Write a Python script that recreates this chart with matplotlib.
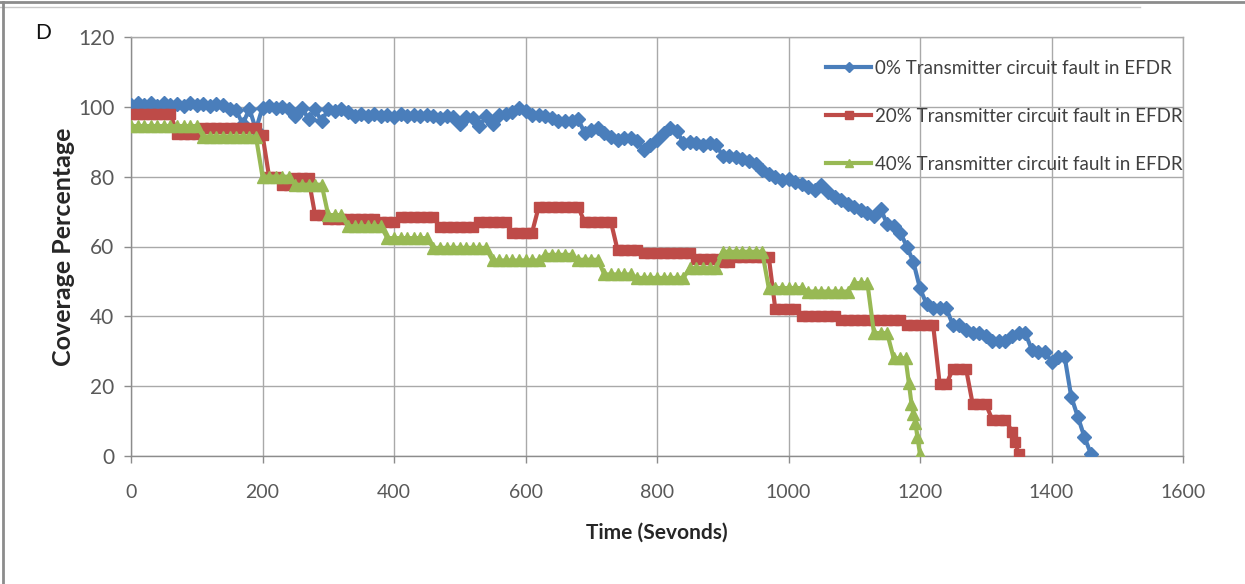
import numpy as np
import matplotlib
matplotlib.use("Agg")
import matplotlib.pyplot as plt
from matplotlib.lines import Line2D
from matplotlib import font_manager

# ---------------- data ----------------
# Coverage (%) sampled every 10 s, with a few extra samples on the final drops
blue_t = list(range(0, 1461, 10))
blue_v = [
    100.5, 101.0, 100.5, 101.0, 100.3, 101.0, 100.5, 100.8, 100.3, 101.0,   # 0-90
    100.5, 100.8, 100.3, 100.8, 100.5, 99.5, 99.0, 95.0, 99.5, 93.5,        # 100-190
    99.8, 100.3, 99.8, 100.0, 99.5, 97.3, 99.8, 96.5, 99.3, 95.8,           # 200-290
    99.5, 98.8, 99.3, 98.5, 97.5, 98.0, 97.3, 98.0, 97.5, 97.8,             # 300-390
    97.2, 98.0, 97.5, 97.8, 97.3, 97.8, 97.5, 96.8, 97.5, 97.0,             # 400-490
    95.0, 97.2, 96.8, 94.5, 97.3, 95.0, 97.7, 98.0, 98.5, 99.6,             # 500-590
    98.8, 97.8, 97.7, 97.5, 96.8, 95.8, 96.0, 95.8, 96.5, 92.5,             # 600-690
    93.5, 93.8, 92.5, 91.5, 90.5, 91.0, 91.0, 90.3, 87.5, 89.0,             # 700-790
    90.5, 92.5, 94.0, 93.2, 89.6, 90.0, 89.6, 89.0, 89.5, 89.0,             # 800-890
    86.0, 86.0, 85.5, 85.0, 84.5, 83.5, 82.0, 80.8, 79.8, 79.0,             # 900-990
    79.2, 78.6, 78.0, 77.0, 76.2, 77.5, 75.5, 74.3, 73.3, 72.3,             # 1000-1090
    71.3, 70.5, 69.5, 68.8, 70.8, 66.5, 65.8, 64.0, 60.0, 55.5,             # 1100-1190
    48.0, 43.5, 42.3, 42.3, 42.3, 37.5, 37.5, 36.0, 35.2, 35.2,             # 1200-1290
    34.5, 32.8, 32.8, 32.8, 34.5, 35.2, 35.2, 30.5, 29.9, 29.9,             # 1300-1390
    27.0, 28.4, 28.4, 17.0, 11.3, 5.5, 0.6,                                 # 1400-1460
]

red_t = list(range(0, 1341, 10)) + [1345, 1350]
red_v = [
    98.0, 98.0, 98.0, 98.0, 98.0, 98.0, 98.0, 92.3, 92.3, 92.3,             # 0-90
    92.3, 94.0, 94.0, 94.0, 94.0, 94.0, 94.0, 94.0, 94.0, 94.0,             # 100-190
    92.0, 80.0, 80.0, 77.5, 77.5, 79.5, 79.5, 79.5, 69.0, 69.0,             # 200-290
    68.0, 68.0, 68.0, 68.0, 68.0, 68.0, 68.0, 68.0, 67.0, 67.0,             # 300-390
    67.0, 68.5, 68.5, 68.5, 68.5, 68.5, 68.5, 65.5, 65.5, 65.5,             # 400-490
    65.5, 65.5, 65.5, 67.0, 67.0, 67.0, 67.0, 67.0, 64.0, 64.0,             # 500-590
    64.0, 64.0, 71.3, 71.3, 71.3, 71.3, 71.3, 71.3, 71.3, 67.0,             # 600-690
    67.0, 67.0, 67.0, 67.0, 59.0, 59.0, 59.0, 59.0, 58.2, 58.2,             # 700-790
    58.2, 58.2, 58.2, 58.2, 58.2, 58.2, 56.3, 56.3, 56.3, 56.3,             # 800-890
    55.5, 55.5, 57.0, 57.0, 57.0, 57.0, 57.0, 57.0, 42.0, 42.0,             # 900-990
    42.0, 42.0, 40.0, 40.0, 40.0, 40.0, 40.0, 40.0, 39.0, 39.0,             # 1000-1090
    39.0, 39.0, 39.0, 39.0, 39.0, 39.0, 39.0, 39.0, 37.5, 37.5,             # 1100-1190
    37.5, 37.5, 37.5, 20.5, 20.5, 25.0, 25.0, 25.0, 15.0, 15.0,             # 1200-1290
    15.0, 10.3, 10.3, 10.3, 7.0, 4.0, 0.5,                                  # 1300-1350
]

green_t = list(range(0, 1171, 10)) + [1178, 1183, 1187, 1190, 1193, 1196, 1200]
green_v = [
    94.5, 94.5, 94.5, 94.5, 94.5, 94.5, 94.5, 94.5, 94.5, 94.5,             # 0-90
    94.5, 91.5, 91.5, 91.5, 91.5, 91.5, 91.5, 91.5, 91.5, 91.5,             # 100-190
    80.0, 80.0, 80.0, 80.0, 80.0, 77.7, 77.7, 77.7, 77.7, 77.7,             # 200-290
    69.0, 69.0, 69.0, 65.8, 65.8, 65.8, 65.8, 65.8, 65.8, 62.4,             # 300-390
    62.4, 62.4, 62.4, 62.4, 62.4, 62.4, 59.6, 59.6, 59.6, 59.6,             # 400-490
    59.6, 59.6, 59.6, 59.6, 59.6, 56.0, 56.0, 56.0, 56.0, 56.0,             # 500-590
    56.0, 56.0, 56.0, 57.6, 57.6, 57.6, 57.6, 57.6, 56.2, 56.2,             # 600-690
    56.2, 56.2, 52.0, 52.0, 52.0, 52.0, 52.0, 51.0, 51.0, 51.0,             # 700-790
    51.0, 51.0, 51.0, 51.0, 51.0, 53.8, 53.8, 53.8, 53.8, 53.8,             # 800-890
    58.5, 58.5, 58.5, 58.5, 58.5, 58.5, 58.5, 48.1, 48.1, 48.1,             # 900-990
    48.1, 48.1, 48.1, 47.1, 47.1, 47.1, 47.1, 47.1, 47.1, 47.1,             # 1000-1090
    49.5, 49.5, 49.5, 35.2, 35.2, 35.2, 28.0, 28.0,                         # 1100-1170
    28.0, 21.0, 15.0, 12.0, 9.5, 5.5, 0.5,                                  # 1178-1200
]

series_labels = [
    "0% Transmitter circuit fault in EFDR",
    "20% Transmitter circuit fault in EFDR",
    "40% Transmitter circuit fault in EFDR",
]
x_ticks = [0, 200, 400, 600, 800, 1000, 1200, 1400, 1600]
y_ticks = [0, 20, 40, 60, 80, 100, 120]

# ---------------- styling ----------------
BLUE, RED, GREEN = "#4A7EBB", "#BE4B48", "#98B954"
TEXT = "#404040"
GRID = "#a9a9a9"

available = {f.name for f in font_manager.fontManager.ttflist}
base_font = "Lato" if "Lato" in available else "DejaVu Sans"
narrow_font = "Liberation Sans Narrow" if "Liberation Sans Narrow" in available else base_font
plt.rcParams["font.family"] = [base_font, "DejaVu Sans"]

W, H = 1245, 584
fig = plt.figure(figsize=(W / 100, H / 100), dpi=100)
fig.patch.set_facecolor("white")

L, R, T, B = 131, 1183, 37, 456
ax = fig.add_axes([L / W, 1 - B / H, (R - L) / W, (B - T) / H])

ax.plot(blue_t, blue_v, color=BLUE, lw=3.0, marker="D", ms=7.5,
        mec=BLUE, mfc=BLUE, label=series_labels[0], zorder=3)
ax.plot(red_t, red_v, color=RED, lw=3.0, marker="s", ms=7.3,
        mec=RED, mfc=RED, label=series_labels[1], zorder=4)
ax.plot(green_t, green_v, color=GREEN, lw=3.0, marker="^", ms=9.0,
        mec=GREEN, mfc=GREEN, label=series_labels[2], zorder=5)

ax.set_xlim(0, 1600)
ax.set_ylim(0, 120)
ax.set_xticks(x_ticks)
ax.set_yticks(y_ticks)
ax.grid(True, color=GRID, lw=1.0, zorder=0)
ax.set_axisbelow(True)

for side in ("top", "right"):
    ax.spines[side].set_color(GRID)
    ax.spines[side].set_linewidth(1.0)
for side in ("left", "bottom"):
    ax.spines[side].set_color("#8c8c8c")
    ax.spines[side].set_linewidth(1.0)

ax.tick_params(axis="both", direction="out", length=5, width=1, color="#8c8c8c",
               labelcolor="#595959")
ax.tick_params(axis="y", labelsize=15, pad=7)
ax.tick_params(axis="x", labelsize=14, pad=15)
for lab in ax.get_xticklabels():
    lab.set_fontfamily(narrow_font)

ax.set_ylabel("Coverage Percentage", fontsize=18, fontweight="bold", color="#262626",
              labelpad=2)
ax.set_xlabel("Time (Sevonds)", fontsize=15, fontweight="bold", color="#262626",
              family=narrow_font, labelpad=16)

leg = ax.legend(loc="upper left", bbox_to_anchor=((826 - L) / (R - L), 1 - (60 - T) / (B - T)),
                frameon=False, fontsize=13.5, handlelength=2.4, handletextpad=0.2,
                labelspacing=1.65, borderaxespad=0, borderpad=0)
for txt in leg.get_texts():
    txt.set_color(TEXT)
for h in leg.legend_handles:
    h.set_markersize(5.5)
    h.set_linewidth(3.0)

fig.text(35 / W, 1 - 33 / H, "D", fontsize=15, color="#111111", va="center", ha="left")

# outer frame
fig.add_artist(Line2D([0, 1], [1 - 2 / H, 1 - 2 / H], transform=fig.transFigure,
                      color="#8c8c8c", lw=2.0))
fig.add_artist(Line2D([0, (1140) / W], [1 - 6.5 / H, 1 - 6.5 / H], transform=fig.transFigure,
                      color="#c8c8c8", lw=1.0))
fig.add_artist(Line2D([3 / W, 3 / W], [0, 1 - 2 / H], transform=fig.transFigure,
                      color="#8c8c8c", lw=2.0))

fig.savefig("out.png", dpi=100, facecolor="white")
